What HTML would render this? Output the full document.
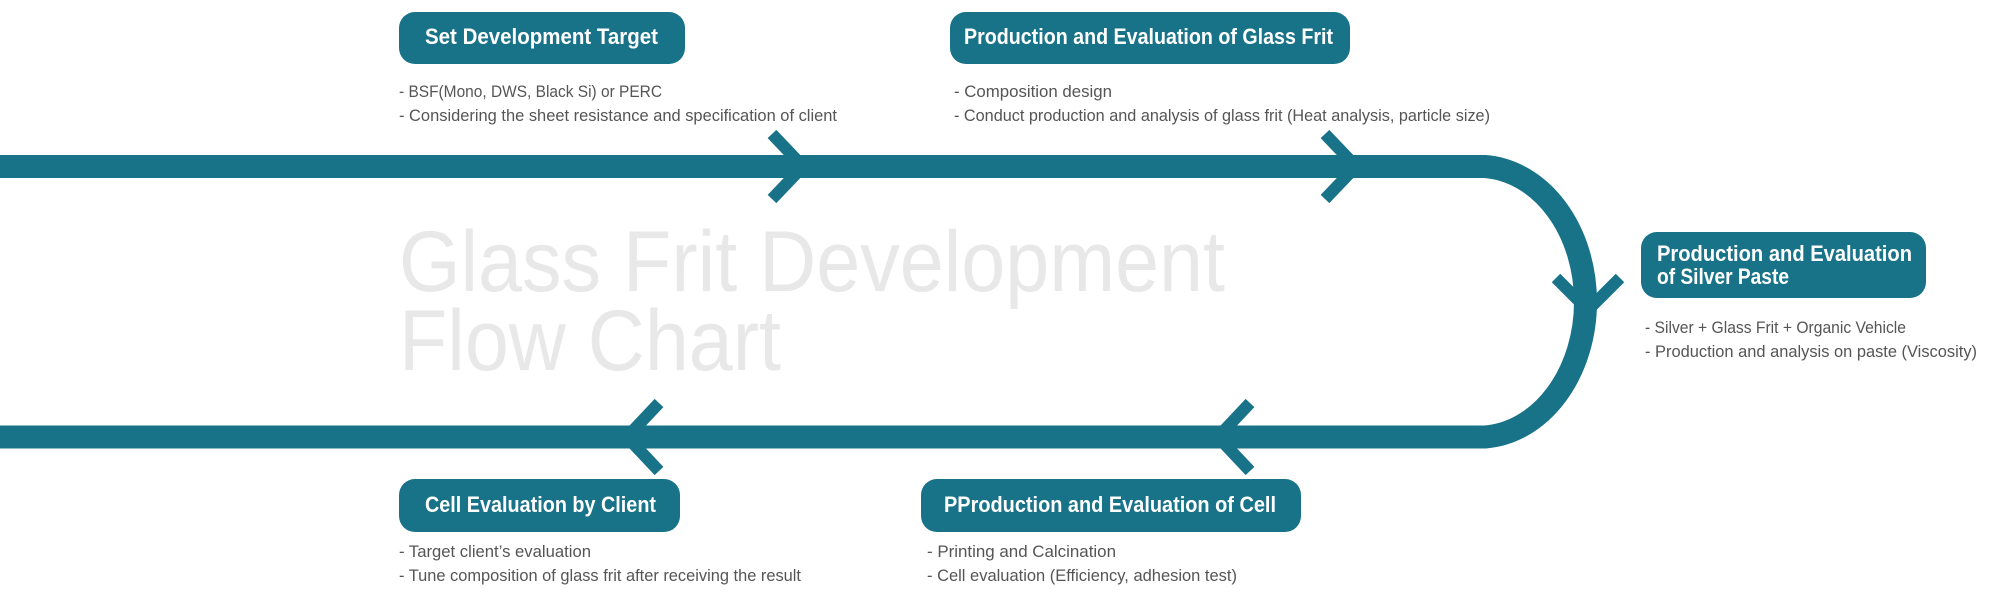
<!DOCTYPE html>
<html><head><meta charset="utf-8"><style>
html,body{margin:0;padding:0;background:#fff;width:2000px;height:598px;overflow:hidden}
svg{display:block}
.bt{font-family:"Liberation Sans",sans-serif;font-weight:bold;font-size:22px;fill:#fff}
.d{font-family:"Liberation Sans",sans-serif;font-size:17px;fill:#555}
.t{font-family:"Liberation Sans",sans-serif;font-size:86px;fill:#e8e8e8}
</style></head><body>
<svg width="2000" height="598" viewBox="0 0 2000 598" xmlns="http://www.w3.org/2000/svg">
<text class="t" x="399" y="291" textLength="826" lengthAdjust="spacingAndGlyphs">Glass Frit Development</text>
<text class="t" x="399" y="370" textLength="382" lengthAdjust="spacingAndGlyphs">Flow Chart</text>
<path d="M0 166.5 H1485 A107 135.5 0 0 1 1485 437 H0" fill="none" stroke="#187389" stroke-width="23"/>
<g fill="none" stroke="#187389" stroke-width="12" stroke-linejoin="miter">
<path d="M772 134 L803 166.5 L772 199"/>
<path d="M1325 134 L1356 166.5 L1325 199"/>
<path d="M1556 278 L1588 310 L1620 278"/>
<path d="M1250 403 L1218 437 L1250 471"/>
<path d="M659 403 L627 437 L659 471"/>
</g>
<g fill="#187389">
<rect x="399" y="12" width="286" height="52" rx="16"/>
<rect x="950" y="12" width="400" height="52" rx="16"/>
<rect x="1641" y="232" width="285" height="66" rx="16"/>
<rect x="399" y="479" width="281" height="53" rx="16"/>
<rect x="921" y="479" width="380" height="53" rx="16"/>
</g>
<text class="bt" x="425" y="44" textLength="233" lengthAdjust="spacingAndGlyphs">Set Development Target</text>
<text class="bt" x="964" y="44" textLength="369" lengthAdjust="spacingAndGlyphs">Production and Evaluation of Glass Frit</text>
<text class="bt" x="1657" y="261" textLength="255" lengthAdjust="spacingAndGlyphs">Production and Evaluation</text>
<text class="bt" x="1657" y="284" textLength="132" lengthAdjust="spacingAndGlyphs">of Silver Paste</text>
<text class="bt" x="425" y="512" textLength="231" lengthAdjust="spacingAndGlyphs">Cell Evaluation by Client</text>
<text class="bt" x="944" y="512" textLength="332" lengthAdjust="spacingAndGlyphs">PProduction and Evaluation of Cell</text>
<text class="d" x="399" y="97" textLength="263" lengthAdjust="spacingAndGlyphs">- BSF(Mono, DWS, Black Si) or PERC</text>
<text class="d" x="399" y="121" textLength="438" lengthAdjust="spacingAndGlyphs">- Considering the sheet resistance and specification of client</text>
<text class="d" x="954" y="97" textLength="158" lengthAdjust="spacingAndGlyphs">- Composition design</text>
<text class="d" x="954" y="121" textLength="536" lengthAdjust="spacingAndGlyphs">- Conduct production and analysis of glass frit (Heat analysis, particle size)</text>
<text class="d" x="1645" y="333" textLength="261" lengthAdjust="spacingAndGlyphs">- Silver + Glass Frit + Organic Vehicle</text>
<text class="d" x="1645" y="357" textLength="332" lengthAdjust="spacingAndGlyphs">- Production and analysis on paste  (Viscosity)</text>
<text class="d" x="399" y="557" textLength="192" lengthAdjust="spacingAndGlyphs">- Target client’s evaluation</text>
<text class="d" x="399" y="581" textLength="402" lengthAdjust="spacingAndGlyphs">- Tune composition of glass frit after receiving the result</text>
<text class="d" x="927" y="557" textLength="189" lengthAdjust="spacingAndGlyphs">- Printing and Calcination</text>
<text class="d" x="927" y="581" textLength="310" lengthAdjust="spacingAndGlyphs">- Cell evaluation (Efficiency, adhesion test)</text>
</svg>
</body></html>
